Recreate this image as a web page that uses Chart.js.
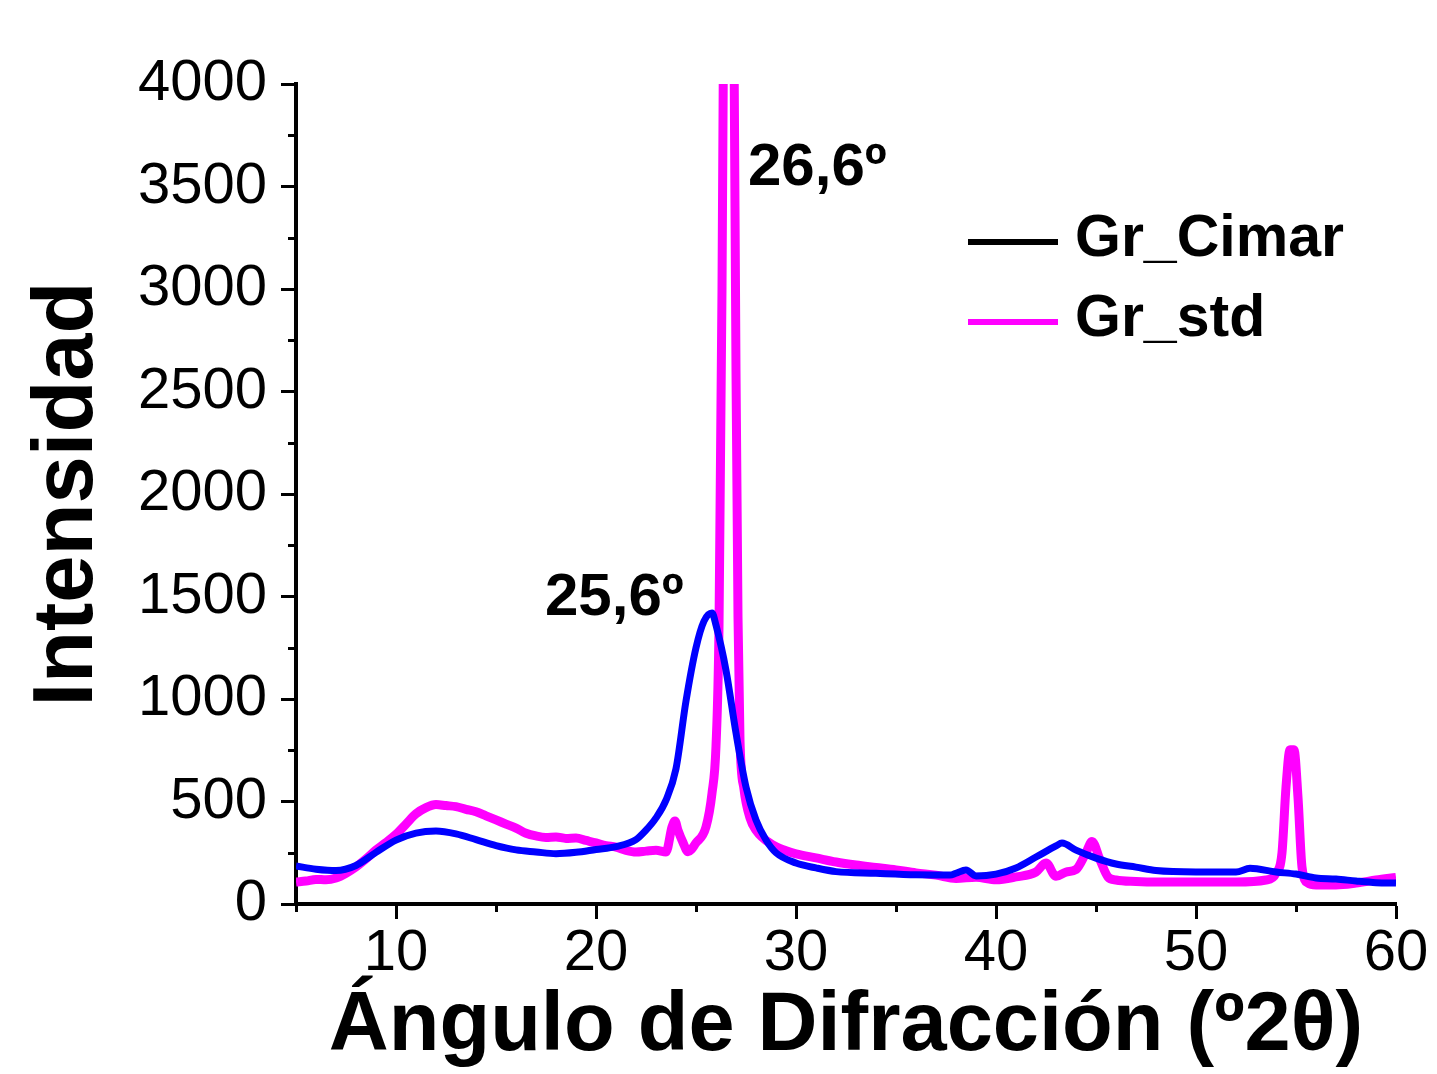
<!DOCTYPE html>
<html>
<head>
<meta charset="utf-8">
<script src="https://cdn.jsdelivr.net/npm/chart.js@4.4.0/dist/chart.umd.min.js"></script>
<style>
  html, body { margin: 0; padding: 0; background: #ffffff; }
  #wrap { width: 1437px; height: 1074px; position: relative; }
</style>
</head>
<body>
<div id="wrap"><canvas id="c" width="1437" height="1074"></canvas></div>
<script>
// ---- Data ----
const seriesNames = ['Gr_Cimar', 'Gr_std'];

const cimarAngle = [5, 6, 7, 8, 9, 10, 11, 12, 13, 14, 15, 16, 17, 18, 19, 20, 21, 22, 22.5, 23, 23.5, 24, 24.5, 25, 25.4, 25.8, 26, 26.5, 27, 27.5, 28, 28.5, 29, 30, 31, 32, 34, 36, 37.7, 38, 38.5, 39, 40, 41, 42, 43, 43.3, 44, 45, 46, 47, 48, 50, 52, 52.7, 54, 55, 56, 57, 58, 59, 60];
const cimarIntensity = [185, 170, 163, 188, 252, 312, 346, 356, 342, 314, 285, 264, 254, 245, 252, 266, 280, 314, 360, 420, 507, 660, 990, 1250, 1380, 1420, 1360, 1140, 834, 571, 410, 312, 250, 200, 176, 158, 150, 143, 141, 150, 166, 137, 146, 176, 229, 283, 297, 263, 224, 195, 180, 163, 156, 156, 174, 156, 146, 127, 122, 112, 104, 102];

const stdAngle = [5, 5.5, 6, 6.5, 7, 7.5, 8, 8.5, 9, 9.5, 10, 10.5, 11, 11.5, 12, 12.5, 13, 13.5, 14, 14.5, 15, 15.5, 16, 16.5, 17, 17.5, 18, 18.5, 19, 19.5, 20, 20.5, 21, 21.5, 22, 22.5, 23, 23.5, 23.8, 23.95, 24.1, 24.35, 24.6, 25, 25.5, 25.8, 26.0, 26.15, 26.3, 26.45, 26.6, 26.75, 26.9, 27.0, 27.1, 27.2, 27.4, 27.7, 28, 28.8, 29.5, 30, 31, 32, 33, 34, 35, 36, 37, 38, 39, 40, 41, 42, 42.5, 43, 43.5, 44, 44.5, 44.8, 45.2, 45.6, 46, 47, 48, 50, 52, 53.5, 54, 54.3, 54.5, 54.7, 54.9, 55.1, 55.3, 55.6, 56, 57, 58, 59, 60];
const stdIntensity = [107, 112, 120, 118, 127, 150, 181, 220, 263, 300, 340, 390, 440, 470, 485, 480, 475, 462, 450, 430, 410, 390, 370, 345, 332, 325, 327, 320, 322, 310, 298, 285, 278, 262, 254, 258, 262, 254, 376, 405, 360, 300, 255, 298, 376, 540, 770, 1350, 3000, 5500, 7500, 6000, 4200, 2600, 1400, 800, 560, 420, 360, 290, 260, 245, 225, 205, 190, 178, 166, 152, 141, 125, 130, 118, 132, 156, 200, 135, 156, 168, 250, 305, 215, 132, 117, 110, 107, 107, 107, 117, 150, 250, 570, 752, 752, 520, 180, 102, 93, 93, 102, 117, 130];

const xTickValues = [10, 20, 30, 40, 50, 60];
const xMinorTickValues = [5, 15, 25, 35, 45, 55];
const yTickValues = [0, 500, 1000, 1500, 2000, 2500, 3000, 3500, 4000];
const yMinorTickValues = [250, 750, 1250, 1750, 2250, 2750, 3250, 3750];

const peakLabels = ['26,6º', '25,6º'];
const peakLabelAngle = [27.6, 17.45];
const peakLabelIntensity = [3507, 1410];

const xTitle = 'Ángulo de Difracción (º2θ)';
const yTitle = 'Intensidad';

// ---- Styling ----
const FONT = "'Liberation Sans', Arial, sans-serif";
const seriesColors = ['#0000ff', '#ff00ff'];
const legendSwatchColors = ['#000000', '#ff00ff'];

const toPoints = (xs, ys) => xs.map((x, i) => ({ x: x, y: ys[i] }));

const minorTicksPlugin = {
  id: 'minorTicks',
  afterDraw(chart) {
    const ctx = chart.ctx;
    const xs = chart.scales.x, ys = chart.scales.y;
    const ca = chart.chartArea;
    ctx.save();
    ctx.strokeStyle = '#000';
    ctx.lineWidth = 3;
    ctx.beginPath();
    xMinorTickValues.forEach(v => {
      const px = Math.round(xs.getPixelForValue(v)) + 0.5;
      ctx.moveTo(px, ca.bottom);
      ctx.lineTo(px, ca.bottom + 8);
    });
    yMinorTickValues.forEach(v => {
      const py = Math.round(ys.getPixelForValue(v)) + 0.5;
      ctx.moveTo(ca.left, py);
      ctx.lineTo(ca.left - 8, py);
    });
    ctx.stroke();
    ctx.restore();
  }
};

const labelsPlugin = {
  id: 'peakLabelsAndLegend',
  afterDraw(chart) {
    const ctx = chart.ctx;
    const xs = chart.scales.x, ys = chart.scales.y;
    const ca = chart.chartArea;
    ctx.save();
    // peak labels
    ctx.fillStyle = '#000';
    ctx.font = 'bold 60px ' + FONT;
    ctx.textAlign = 'left';
    ctx.textBaseline = 'alphabetic';
    peakLabels.forEach((t, i) => {
      ctx.fillText(t, xs.getPixelForValue(peakLabelAngle[i]), ys.getPixelForValue(peakLabelIntensity[i]));
    });
    // legend
    const lx0 = ca.left + 672, lx1 = ca.left + 762, tx = ca.left + 779;
    const rowY = [ca.top + 158, ca.top + 238];
    ctx.font = 'bold 59px ' + FONT;
    seriesNames.forEach((name, i) => {
      ctx.strokeStyle = legendSwatchColors[i];
      ctx.lineWidth = 6;
      ctx.beginPath();
      ctx.moveTo(lx0, rowY[i]);
      ctx.lineTo(lx1, rowY[i]);
      ctx.stroke();
      ctx.fillStyle = '#000';
      ctx.textBaseline = 'alphabetic';
      ctx.fillText(name, tx, rowY[i] + 14);
    });
    ctx.restore();
  }
};

new Chart(document.getElementById('c'), {
  type: 'line',
  data: {
    datasets: [
      {
        label: seriesNames[0],
        data: toPoints(cimarAngle, cimarIntensity),
        borderColor: seriesColors[0],
        backgroundColor: seriesColors[0],
        borderWidth: 7,
        pointRadius: 0,
        cubicInterpolationMode: 'monotone',
        fill: false
      },
      {
        label: seriesNames[1],
        data: toPoints(stdAngle, stdIntensity),
        borderColor: seriesColors[1],
        backgroundColor: seriesColors[1],
        borderWidth: 9,
        pointRadius: 0,
        cubicInterpolationMode: 'monotone',
        fill: false
      }
    ]
  },
  options: {
    responsive: false,
    animation: false,
    devicePixelRatio: 1,
    layout: { padding: { top: 84, right: 41, bottom: 0, left: 0 } },
    plugins: {
      legend: { display: false },
      tooltip: { enabled: false }
    },
    scales: {
      x: {
        type: 'linear',
        min: 5,
        max: 60,
        afterBuildTicks: s => { s.ticks = xTickValues.map(v => ({ value: v })); },
        afterFit: s => { s.height = 170; },
        grid: { drawOnChartArea: false, drawTicks: true, tickLength: 15, tickWidth: 3, tickColor: '#000' },
        border: { display: true, color: '#000', width: 4 },
        ticks: { color: '#000', font: { family: FONT, size: 58, lineHeight: 1.2 }, padding: 0, maxRotation: 0, autoSkip: false, callback: v => String(v) },
        title: { display: true, text: xTitle, color: '#000', font: { family: FONT, size: 83, weight: 'bold', lineHeight: 1 }, padding: { top: 0, bottom: 5 } }
      },
      y: {
        type: 'linear',
        min: 0,
        max: 4000,
        afterBuildTicks: s => { s.ticks = yTickValues.map(v => ({ value: v })); },
        afterFit: s => { s.width = 296; },
        grid: { drawOnChartArea: false, drawTicks: true, tickLength: 15, tickWidth: 3, tickColor: '#000' },
        border: { display: true, color: '#000', width: 4 },
        ticks: { color: '#000', font: { family: FONT, size: 58 }, padding: 14, autoSkip: false, callback: v => String(v) },
        title: { display: true, text: yTitle, color: '#000', font: { family: FONT, size: 85, weight: 'bold', lineHeight: 1 }, padding: { top: 26, bottom: 0 } }
      }
    }
  },
  plugins: [minorTicksPlugin, labelsPlugin]
});
</script>
</body>
</html>
